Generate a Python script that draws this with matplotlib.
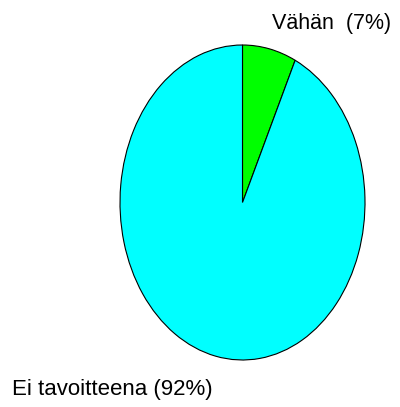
import matplotlib
matplotlib.use("Agg")
import matplotlib.pyplot as plt

labels = ["Vähän  (7%)", "Ei tavoitteena (92%)"]
values = [7, 92]
colors = ["#00FF00", "#00FFFF"]

W, H = 400, 407
fig = plt.figure(figsize=(W / 100, H / 100), dpi=100)
ax = fig.add_axes([120 / W, (H - 360) / H, 245 / W, 315 / H])
ax.pie(values, colors=colors, startangle=90, counterclock=False,
       wedgeprops=dict(edgecolor="black", linewidth=0.8))
ax.set_aspect("auto")
ax.set_xlim(-1, 1)
ax.set_ylim(-1, 1)
ax.axis("off")

fig.text(272 / W, 1 - 24 / H, labels[0], ha="left", va="center",
         fontsize=15.5, family="Liberation Sans")
fig.text(12 / W, 1 - 390 / H, labels[1], ha="left", va="center",
         fontsize=16, family="Liberation Sans")

fig.savefig("out.png", dpi=100)
